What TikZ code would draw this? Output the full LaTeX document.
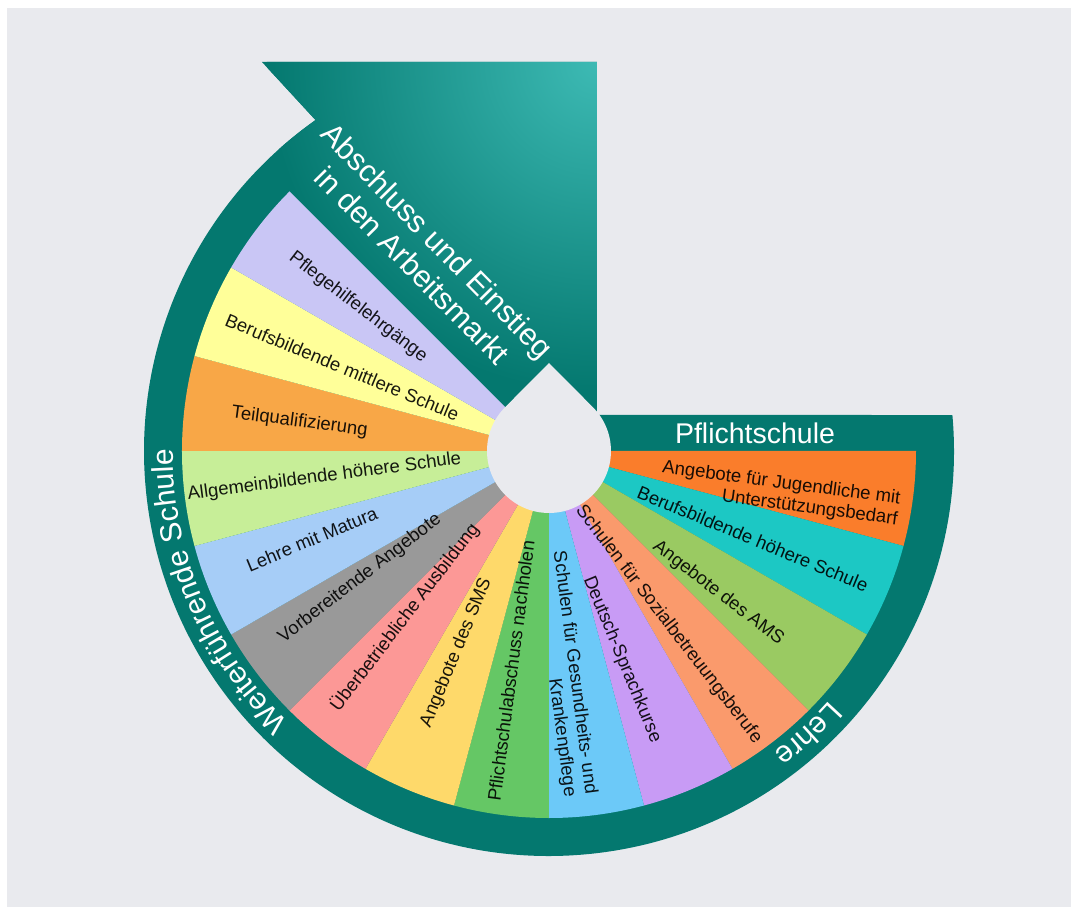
\documentclass[tikz,border=0pt]{standalone}
\usepackage{fontspec}
\setmainfont{Liberation Sans}
\usepackage{tikz}
\usetikzlibrary{decorations.text}

\definecolor{ringteal}{HTML}{04786F}
\definecolor{ringlight}{HTML}{3DBAB4}
\definecolor{bggrey}{HTML}{E9EAEE}
\definecolor{cPflege}{HTML}{C9C6F5}
\definecolor{cBMS}{HTML}{FFFF99}
\definecolor{cTeilq}{HTML}{F8A747}
\definecolor{cAHS}{HTML}{C7EE98}
\definecolor{cLMM}{HTML}{A6CDF7}
\definecolor{cVorb}{HTML}{999999}
\definecolor{cUeba}{HTML}{FC9896}
\definecolor{cSMS}{HTML}{FED96A}
\definecolor{cPSA}{HTML}{65C765}
\definecolor{cGuK}{HTML}{6CC9F8}
\definecolor{cDeutsch}{HTML}{C89BF5}
\definecolor{cSozial}{HTML}{FA9A6C}
\definecolor{cAMS}{HTML}{9ACA62}
\definecolor{cBHS}{HTML}{1CC8C4}
\definecolor{cJug}{HTML}{FA7D2B}

\begin{document}
\begin{tikzpicture}[x=1pt, y=1pt,
  wlabel/.style={text opacity=0.9, font=\fontsize{18.5}{21}\selectfont, inner sep=0pt},
  wlabel2/.style={wlabel, align=right},
  ringlabel/.style={text=white, inner sep=0pt}]
  \useasboundingbox (-549,-456) rectangle (522,451);
  \fill [white] (-549,-456) rectangle (522,451);
  \fill [bggrey] (-542,-456) rectangle (522,443);

  % teal band with the arrow on top
  \fill [ringteal] (48,36) -- (5.1:405) arc (5.1:-234.8:405) -- (-287,389) -- (48,389) -- cycle;
  \begin{scope}
    \clip (48,36) -- (5.1:405) arc (5.1:-234.8:405) -- (-287,389) -- (48,389) -- cycle;
    \shade [inner color=ringlight, outer color=ringteal] (48,389) circle (330);
  \end{scope}

  % wedges
  \fill [cJug] (0,0) -- (0:367) arc (0:-15:367) -- cycle;
  \fill [cBHS] (0,0) -- (-15:367) arc (-15:-30:367) -- cycle;
  \fill [cAMS] (0,0) -- (-30:367) arc (-30:-45:367) -- cycle;
  \fill [cSozial] (0,0) -- (-45:367) arc (-45:-60:367) -- cycle;
  \fill [cDeutsch] (0,0) -- (-60:367) arc (-60:-75:367) -- cycle;
  \fill [cGuK] (0,0) -- (-75:367) arc (-75:-90:367) -- cycle;
  \fill [cPSA] (0,0) -- (-90:367) arc (-90:-105:367) -- cycle;
  \fill [cSMS] (0,0) -- (-105:367) arc (-105:-120:367) -- cycle;
  \fill [cUeba] (0,0) -- (-120:367) arc (-120:-135:367) -- cycle;
  \fill [cVorb] (0,0) -- (-135:367) arc (-135:-150:367) -- cycle;
  \fill [cLMM] (0,0) -- (-150:367) arc (-150:-165:367) -- cycle;
  \fill [cAHS] (0,0) -- (-165:367) arc (-165:-180:367) -- cycle;
  \fill [cTeilq] (0,0) -- (-180:367) arc (-180:-195:367) -- cycle;
  \fill [cBMS] (0,0) -- (-195:367) arc (-195:-210:367) -- cycle;
  \fill [cPflege] (0,0) -- (-210:367) arc (-210:-225:367) -- cycle;

  % drop in the middle
  \fill [bggrey] (0,88) -- (135:62) arc (135:405:62) -- cycle;

  % band texts
  \node (iAbschluss) [ringlabel, align=center, rotate=-45.5, font=\fontsize{30.5}{35}\selectfont] at (-124,198) {Abschluss und Einstieg\\in den Arbeitsmarkt};
  \node (iPflicht) [ringlabel, font=\fontsize{28.5}{30}\selectfont] at (206,18) {Pflichtschule};
  \path [decorate, decoration={text along path, text align=center, text color=white, text={|\fontsize{30}{30}\selectfont|Weiterführende Schule}}] (263:376) arc (263:143:376);
  \path [decorate, decoration={text along path, text align=center, text color=white, text={|\fontsize{30}{30}\selectfont|Lehre}}] (-10:376) arc (-10:-85:376);

  % wedge texts
  \node (iJug) [wlabel2, rotate=-7.5] at (231,-43) {Angebote für Jugendliche mit\\Unterstützungsbedarf};
  \node (iBHS) [wlabel, rotate=-22.5] at (-23.3:222) {Berufsbildende höhere Schule};
  \node (iAMS) [wlabel, rotate=-37.5] at (-40:221) {Angebote des AMS};
  \node (iSozial) [wlabel, rotate=-52.5] at (-55.4:211) {Schulen für Sozialbetreuungsberufe};
  \node (iDeutsch) [wlabel, rotate=-67.5] at (-70.7:221) {Deutsch-Sprachkurse};
  \node (iGuK) [wlabel2, rotate=-82.5] at (15,-223) {Schulen für Gesundheits- und\\Krankenpflege};
  \node (iPSA) [wlabel, rotate=82.5] at (-99.8:223) {Pflichtschulabschuss nachholen};
  \node (iSMS) [wlabel, rotate=67.5] at (-114.7:222) {Angebote des SMS};
  \node (iUeba) [wlabel, rotate=52.5] at (-131:220) {Überbetriebliche Ausbildung};
  \node (iVorb) [wlabel, rotate=37.5] at (-146:228) {Vorbereitende Angebote};
  \node (iLMM) [wlabel, rotate=22.5] at (-159.6:253) {Lehre mit Matura};
  \node (iAHS) [wlabel, rotate=7.5] at (-173.4:226) {Allgemeinbildende höhere Schule};
  \node (iTeilq) [wlabel, rotate=-7.5] at (173.4:251) {Teilqualifizierung};
  \node (iBMS) [wlabel, rotate=-22.5] at (157.9:223) {Berufsbildende mittlere Schule};
  \node (iPflege) [wlabel, rotate=-37.5] at (143:239) {Pflegehilfelehrgänge};
\end{tikzpicture}
\end{document}
